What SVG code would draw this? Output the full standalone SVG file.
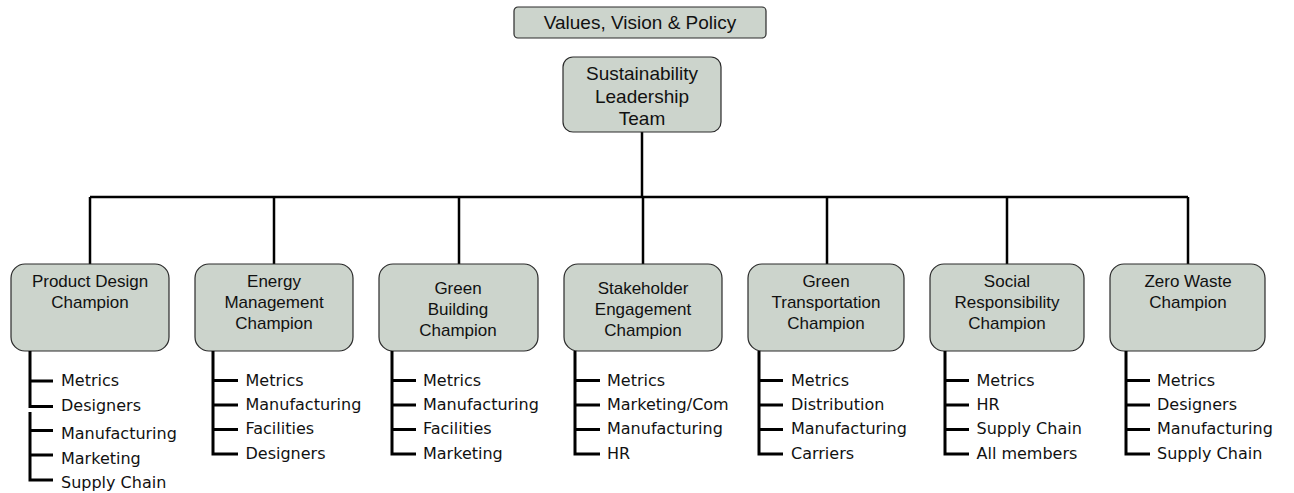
<svg xmlns="http://www.w3.org/2000/svg" width="1294" height="493" viewBox="0 0 1294 493">
<style>
.box{fill:#ccd4cc;stroke:#2a2a2a;stroke-width:1.2}
.bt{font-family:"Liberation Sans",Arial,sans-serif;font-size:17px;fill:#111;text-anchor:middle}
.tt{font-family:"Liberation Sans",Arial,sans-serif;font-size:19px;fill:#111;text-anchor:middle}
.li{font-family:"DejaVu Sans",sans-serif;font-size:16px;fill:#111}
.con{fill:none;stroke:#000;stroke-width:2.5}
.lst{fill:none;stroke:#000;stroke-width:3}
</style>
<rect width="1294" height="493" fill="#fff"/>
<g id="connectors">
<path class="con" d="M642,132 V197" stroke-width="3"/>
<path class="con" d="M90,197 H1188"/>
<path class="con" d="M90,197 V264 M274,197 V264 M459,197 V264 M643,197 V264 M827,197 V264 M1007,197 V264 M1188,197 V264"/>
</g>
<g id="values">
<rect class="box" x="514" y="7" width="252" height="31" rx="4"/>
<text class="tt" x="640" y="29">Values, Vision &amp; Policy</text>
</g>
<g id="slt">
<rect class="box" x="563" y="57" width="158" height="75" rx="10"/>
<text class="tt" x="642" y="80">Sustainability</text>
<text class="tt" x="642" y="102.5">Leadership</text>
<text class="tt" x="642" y="125">Team</text>
</g>
<g id="product-design">
<rect class="box" x="11" y="264" width="158" height="87" rx="14"/>
<text class="bt" x="90" y="287">Product Design</text>
<text class="bt" x="90" y="308">Champion</text>
<path class="lst" d="M30,351 V408 M30,412 V480 H53 M30,381 H53 M30,430.5 H53 M30,455 H53"/>
<path class="lst" d="M30,406.5 H53" stroke-width="2"/>
<text class="li" x="61" y="386">Metrics</text>
<text class="li" x="61" y="411">Designers</text>
<text class="li" x="61" y="439">Manufacturing</text>
<text class="li" x="61" y="464">Marketing</text>
<text class="li" x="61" y="488">Supply Chain</text>
</g>
<g id="energy">
<rect class="box" x="195" y="264" width="158" height="87" rx="14"/>
<text class="bt" x="274" y="287">Energy</text>
<text class="bt" x="274" y="308">Management</text>
<text class="bt" x="274" y="329">Champion</text>
<path class="lst" d="M213,351 V454 H238 M213,380.5 H238 M213,405 H238 M213,429.5 H238"/>
<text class="li" x="245.5" y="385.5">Metrics</text>
<text class="li" x="245.5" y="410">Manufacturing</text>
<text class="li" x="245.5" y="434">Facilities</text>
<text class="li" x="245.5" y="458.5">Designers</text>
</g>
<g id="green-building">
<rect class="box" x="379" y="264" width="159" height="87" rx="14"/>
<text class="bt" x="458" y="294">Green</text>
<text class="bt" x="458" y="315">Building</text>
<text class="bt" x="458" y="336">Champion</text>
<path class="lst" d="M392,351 V454 H416 M392,380.5 H416 M392,405 H416 M392,429.5 H416"/>
<text class="li" x="423" y="385.5">Metrics</text>
<text class="li" x="423" y="410">Manufacturing</text>
<text class="li" x="423" y="434">Facilities</text>
<text class="li" x="423" y="458.5">Marketing</text>
</g>
<g id="stakeholder">
<rect class="box" x="564" y="264" width="158" height="87" rx="14"/>
<text class="bt" x="643" y="294">Stakeholder</text>
<text class="bt" x="643" y="315">Engagement</text>
<text class="bt" x="643" y="336">Champion</text>
<path class="lst" d="M575,351 V454 H600 M575,380.5 H600 M575,405 H600 M575,429.5 H600"/>
<text class="li" x="607" y="385.5">Metrics</text>
<text class="li" x="607" y="410">Marketing/Com</text>
<text class="li" x="607" y="434">Manufacturing</text>
<text class="li" x="607" y="458.5">HR</text>
</g>
<g id="green-transportation">
<rect class="box" x="748" y="264" width="156" height="87" rx="14"/>
<text class="bt" x="826" y="287">Green</text>
<text class="bt" x="826" y="308">Transportation</text>
<text class="bt" x="826" y="329">Champion</text>
<path class="lst" d="M759,351 V454 H783 M759,380.5 H783 M759,405 H783 M759,429.5 H783"/>
<text class="li" x="791" y="385.5">Metrics</text>
<text class="li" x="791" y="410">Distribution</text>
<text class="li" x="791" y="434">Manufacturing</text>
<text class="li" x="791" y="458.5">Carriers</text>
</g>
<g id="social">
<rect class="box" x="930" y="264" width="154" height="87" rx="14"/>
<text class="bt" x="1007" y="287">Social</text>
<text class="bt" x="1007" y="308">Responsibility</text>
<text class="bt" x="1007" y="329">Champion</text>
<path class="lst" d="M945,351 V454 H969 M945,380.5 H969 M945,405 H969 M945,429.5 H969"/>
<text class="li" x="976.5" y="385.5">Metrics</text>
<text class="li" x="976.5" y="410">HR</text>
<text class="li" x="976.5" y="434">Supply Chain</text>
<text class="li" x="976.5" y="458.5">All members</text>
</g>
<g id="zero-waste">
<rect class="box" x="1110" y="264" width="155" height="87" rx="14"/>
<text class="bt" x="1188" y="287">Zero Waste</text>
<text class="bt" x="1188" y="308">Champion</text>
<path class="lst" d="M1126,351 V454 H1150 M1126,380.5 H1150 M1126,405 H1150 M1126,429.5 H1150"/>
<text class="li" x="1157" y="385.5">Metrics</text>
<text class="li" x="1157" y="410">Designers</text>
<text class="li" x="1157" y="434">Manufacturing</text>
<text class="li" x="1157" y="458.5">Supply Chain</text>
</g>
</svg>
